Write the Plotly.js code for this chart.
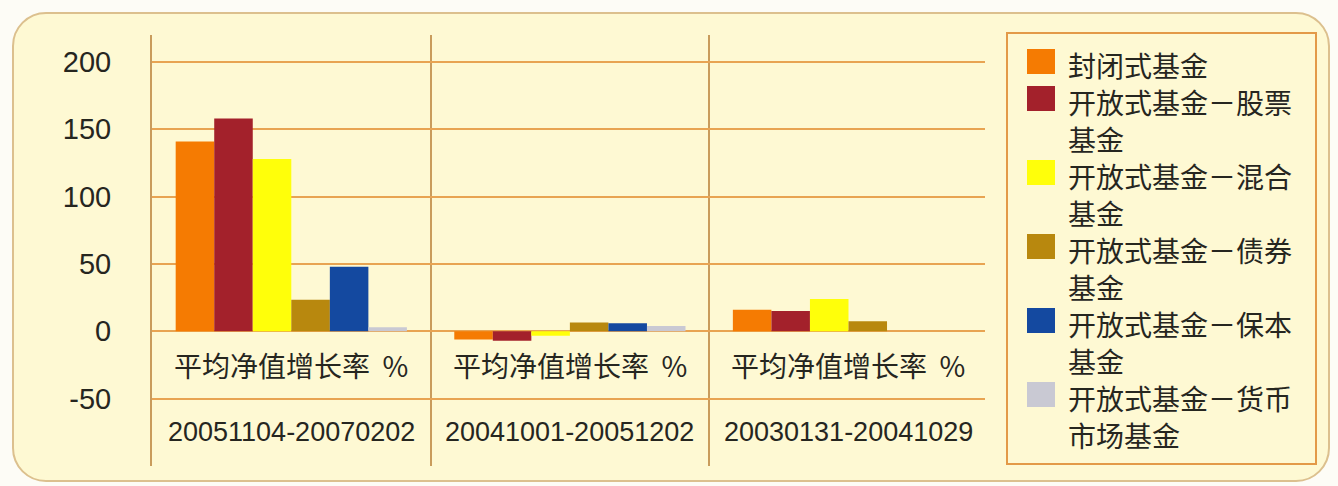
<!DOCTYPE html>
<html>
<head>
<meta charset="utf-8">
<script src="https://cdn.plot.ly/plotly-3.0.1.min.js"></script>
<style>
  html, body { margin:0; padding:0; background:#fdfcf6; }
  #frame { position:absolute; left:12px; top:12px; width:1314px; height:466px;
           border:2px solid #dcc08e; border-radius:34px; background:#fef9d3; box-sizing:content-box; }
  #chart { position:absolute; left:0; top:0; width:1338px; height:486px; }
</style>
</head>
<body>
<div id="frame"></div>
<div id="chart"></div>
<script>
// ---- data ----
const periods = ['20051104-20070202', '20041001-20051202', '20030131-20041029'];
const rowLabel = '平均净值增长率 %';
const seriesNames = ['封闭式基金', '开放式基金－股票基金', '开放式基金－混合基金',
                     '开放式基金－债券基金', '开放式基金－保本基金', '开放式基金－货币市场基金'];
const closedFund   = [141, -6, 16];
const stockFund    = [158, -7, 15];
const mixedFund    = [128, -3.3, 24];
const bondFund     = [23.5, 6.5, 7.5];
const guaranteed   = [48, 6, 0];
const moneyMarket  = [3, 4, 0];
const yTicks = [-50, 0, 50, 100, 150, 200];

// ---- styles ----
const seriesValues = [closedFund, stockFund, mixedFund, bondFund, guaranteed, moneyMarket];
const colors = ['#f57b02', '#a3212b', '#ffff0a', '#b8880e', '#1449a0', '#c9c9d3'];
const cjk = '"Noto Sans CJK SC", "Noto Sans", sans-serif';
const latin = '"Liberation Sans", Arial, sans-serif';
const textColor = '#26261f';

const traces = seriesNames.map((n, i) => ({
  type: 'bar', name: n, x: periods, y: seriesValues[i],
  marker: { color: colors[i], line: { width: 0 } },
  showlegend: false, hoverinfo: 'name+y'
}));

// plot area pixel geometry (for the hand-built legend)
const W = 1338, H = 486, L = 152, R = 353, T = 35, B = 20;
const pw = W - L - R, ph = H - T - B;
const px = v => (v - L) / pw;
const py = v => (H - B - v) / ph;

const annotations = [];
const shapes = [];
periods.forEach(p => {
  annotations.push({ x: p, y: -25, xref: 'x', yref: 'y', text: rowLabel.replace(' ', '&nbsp;&nbsp;'), showarrow: false,
    font: { family: cjk, size: 28, color: textColor }, xanchor: 'center', yanchor: 'middle' });
  annotations.push({ x: p, y: -75, xref: 'x', yref: 'y', text: p, showarrow: false,
    font: { family: latin, size: 27, color: textColor }, xanchor: 'center', yanchor: 'middle' });
});

// legend box
shapes.push({ type: 'rect', xref: 'paper', yref: 'paper', x0: px(1007), x1: px(1316), y0: py(33), y1: py(464),
  line: { color: '#e39a48', width: 2 }, fillcolor: 'rgba(0,0,0,0)' });
let line = 0;
const lineH = 37, firstY = 65;
seriesNames.forEach((n, i) => {
  const lines = n.length > 8 ? [n.slice(0, 8), n.slice(8)] : [n];
  const yc = firstY + line * lineH;
  shapes.push({ type: 'rect', xref: 'paper', yref: 'paper', x0: px(1027), x1: px(1055),
    y0: py(yc - 16), y1: py(yc + 9), fillcolor: colors[i], line: { width: 0 } });
  lines.forEach((t, k) => {
    annotations.push({ xref: 'paper', yref: 'paper', x: px(1066), y: py(yc + k * lineH), text: t,
      showarrow: false, xanchor: 'left', yanchor: 'middle',
      font: { family: cjk, size: 28, color: textColor } });
  });
  line += lines.length;
});

const layout = {
  width: W, height: H,
  margin: { l: L, r: R, t: T, b: B, pad: 0 },
  paper_bgcolor: 'rgba(0,0,0,0)', plot_bgcolor: 'rgba(0,0,0,0)',
  barmode: 'group', bargap: 0.17, bargroupgap: 0,
  showlegend: false,
  xaxis: { type: 'category', range: [-0.5, 2.49], tickson: 'boundaries', showticklabels: false,
           showgrid: true, gridcolor: '#c99c5c', gridwidth: 2, ticks: '', zeroline: false, showline: false },
  yaxis: { range: [-100, 220], tickvals: yTicks, ticktext: yTicks.map(v => v < 0 ? '-' + Math.abs(v) : String(v)),
           showgrid: true, gridcolor: '#e8a452', gridwidth: 2, zeroline: false,
           showline: true, linecolor: '#c99c5c', linewidth: 2,
           ticks: 'outside', ticklen: 33, tickcolor: 'rgba(0,0,0,0)',
           tickfont: { family: latin, size: 29, color: textColor } },
  annotations: annotations, shapes: shapes
};

Plotly.newPlot('chart', traces, layout, { displayModeBar: false, staticPlot: true });
</script>
</body>
</html>
